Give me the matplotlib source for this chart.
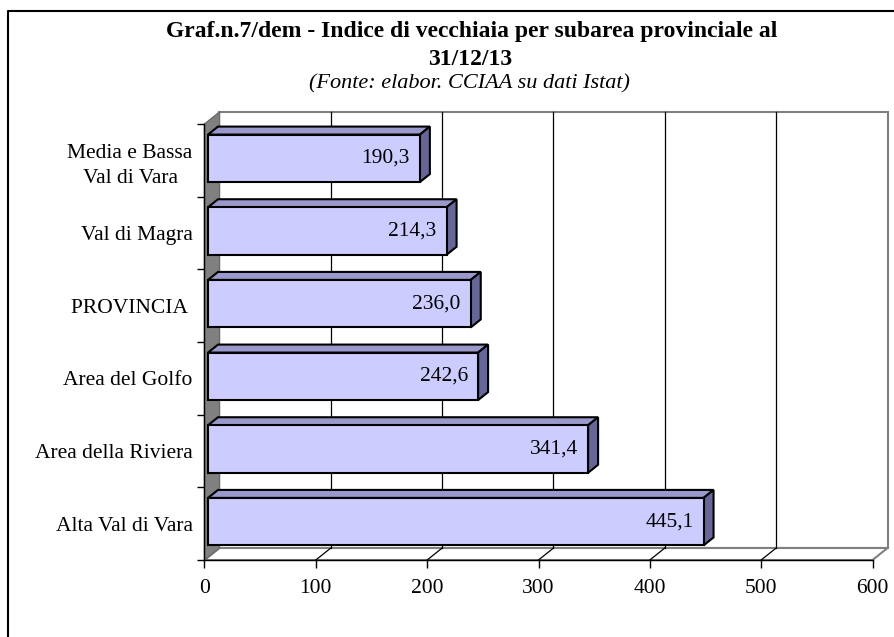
import matplotlib.pyplot as plt
from matplotlib.patches import Polygon, Rectangle
from matplotlib.lines import Line2D

categories = ['Alta Val di Vara', 'Area della Riviera', 'Area del Golfo',
              'PROVINCIA ', 'Val di Magra', 'Media e Bassa\nVal di Vara']
values = [445.1, 341.4, 242.6, 236.0, 214.3, 190.3]
xticks = [0, 100, 200, 300, 400, 500, 600]

title1 = 'Graf.n.7/dem - Indice di vecchiaia per subarea provinciale al'
title2 = '31/12/13'
subtitle = '(Fonte: elabor. CCIAA su dati Istat)'

plt.rcParams['font.family'] = ['Liberation Serif', 'DejaVu Serif']
FS = 15.5

W, H = 895, 637
fig = plt.figure(figsize=(W / 100, H / 100), dpi=100)

# front plane of the 3d box, in pixels
x0, x1, ytop, ybot = 204.5, 872.5, 124, 560
ax = fig.add_axes([x0 / W, (H - ybot) / H, (x1 - x0) / W, (ybot - ytop) / H])
n = len(categories)
xmax = xticks[-1]
ax.set_xlim(0, xmax)
ax.set_ylim(0, n)
ux = (x1 - x0) / xmax
uy = (ybot - ytop) / n
dx, dy = 15 / ux, 12 / uy          # depth of the box
bx, by = 3.5 / ux, -2 / uy         # bar front offset
bdx, bdy = 10 / ux, 8 / uy         # bar depth
bh = 47.5 / uy

grey = '#808080'
# back wall, floor, side wall
ax.add_patch(Polygon([(dx, dy), (xmax + dx, dy), (xmax + dx, n + dy), (dx, n + dy)],
                     closed=True, facecolor='white', edgecolor=grey, lw=1.5,
                     clip_on=False, zorder=0.5))
ax.add_patch(Polygon([(0, 0), (xmax, 0), (xmax + dx, dy), (dx, dy)], closed=True,
                     facecolor='white', edgecolor=grey, lw=1.5, clip_on=False, zorder=0.6))
ax.add_patch(Polygon([(0, 0), (dx, dy), (dx, n + dy), (0, n)], closed=True,
                     facecolor=grey, edgecolor='#6a6a6a', lw=1, clip_on=False, zorder=0.7))

for v in xticks[1:-1]:
    ax.add_line(Line2D([v + dx, v + dx], [dy, n + dy], color='black', lw=0.9, zorder=0.8,
                       clip_on=False))
    ax.add_line(Line2D([v, v + dx], [0, dy], color='black', lw=0.9, zorder=0.8,
                       clip_on=False))

# bars
for i, v in enumerate(values):
    c = i + 0.5
    xa, xb = bx, v + bx
    ya, yb = c - bh / 2 - by, c + bh / 2 - by
    ax.add_patch(Polygon([(xa, yb), (xb, yb), (xb + bdx, yb + bdy), (xa + bdx, yb + bdy)],
                         closed=True, facecolor='#9999CC', edgecolor='black', lw=1.5,
                         clip_on=False, zorder=3))
    ax.add_patch(Polygon([(xb, ya), (xb + bdx, ya + bdy), (xb + bdx, yb + bdy), (xb, yb)],
                         closed=True, facecolor='#666699', edgecolor='black', lw=1.5,
                         clip_on=False, zorder=3))
    ax.add_patch(Rectangle((xa, ya), v, bh, facecolor='#CCCCFF', edgecolor='black',
                           lw=1.5, clip_on=False, zorder=3.1))
    ax.text(xb - 10 / ux, (ya + yb) / 2, f'{v:.1f}'.replace('.', ','), ha='right',
            va='center', fontsize=FS, zorder=4)

for s in ['top', 'right']:
    ax.spines[s].set_visible(False)
for s in ['left', 'bottom']:
    ax.spines[s].set_color('black')
    ax.spines[s].set_linewidth(1)
ax.patch.set_visible(False)

ax.set_xticks(xticks)
ax.set_xticklabels([str(t) for t in xticks], fontsize=FS)
ax.tick_params(axis='x', length=6, width=1, pad=8)
ax.set_yticks(range(n + 1))
ax.set_yticklabels([])
ax.set_yticks([i + 0.5 for i in range(n)], minor=True)
ax.set_yticklabels(categories, minor=True, fontsize=FS, multialignment='center',
                   linespacing=1.45)
ax.tick_params(axis='y', which='major', length=5, width=1)
ax.tick_params(axis='y', which='minor', length=0, pad=8.5)

fig.text(472 / W, 1 - 37 / H, title1, ha='center', va='baseline', fontsize=17,
         fontweight='bold')
fig.text(470 / W, 1 - 65 / H, title2, ha='center', va='baseline', fontsize=17,
         fontweight='bold')
fig.text(469 / W, 1 - 88 / H, subtitle, ha='center', va='baseline', fontsize=16,
         style='italic')

fig.add_artist(Line2D([8 / W, 8 / W, 1.0], [0, 1 - 11 / H, 1 - 11 / H],
                      transform=fig.transFigure, color='black', lw=1.5))

fig.savefig('out.png', dpi=100)
